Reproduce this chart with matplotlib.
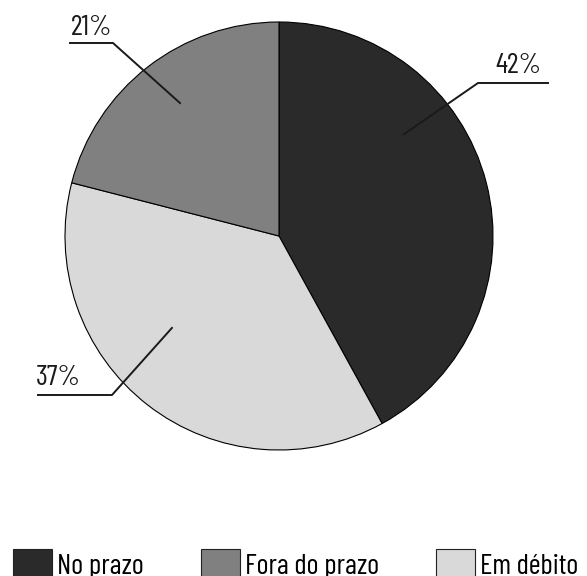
import numpy as np
import matplotlib.pyplot as plt
from matplotlib.patches import Patch

plt.rcParams['font.family'] = ['Barlow Condensed', 'Roboto Condensed', 'DejaVu Sans']
plt.rcParams['font.stretch'] = 'condensed'
plt.rcParams['font.weight'] = 'normal'

# data
labels = ['No prazo', 'Em débito', 'Fora do prazo']
values = [42, 37, 21]
colors = ['#2a2a2a', '#d9d9d9', '#808080']
legend_order = ['No prazo', 'Fora do prazo', 'Em débito']

W, H = 587, 576
fig = plt.figure(figsize=(W / 100, H / 100), dpi=100)
ax = fig.add_axes([0, 0, 1, 1])
renderer = fig.canvas.get_renderer()


def fit_size(s, target_px):
    # font size (pt) that gives the string the width seen in the reference
    t = fig.text(0, 0, s, fontsize=10)
    w = t.get_window_extent(renderer).width
    t.remove()
    return 10 * target_px / w


cx, cy, R = 279, H - 236, 214
wedges, _ = ax.pie(values, colors=colors, startangle=90, counterclock=False,
                   center=(cx, cy), radius=R, frame=True,
                   wedgeprops=dict(edgecolor='black', linewidth=0.8))
ax.set_xlim(0, W)
ax.set_ylim(0, H)
ax.set_aspect('equal')
ax.axis('off')

label_fs = fit_size('42%', 46)

# leader lines: (inner angle, inner radius frac, elbow x, elbow y(top-down), tail x, text x, text baseline)
callouts = {
    'No prazo': (39.2, 0.748, 478, 83, 549, 495, 73),
    'Fora do prazo': (126.6, 0.77, 113, 43, 69, 71, 35),
    'Em débito': (-139.4, 0.655, 112, 395, 37, 36, 385),
}
for lab, v in zip(labels, values):
    ang, rf, ex, ey, tx, lx, ly = callouts[lab]
    ix = cx + rf * R * np.cos(np.radians(ang))
    iy = cy + rf * R * np.sin(np.radians(ang))
    ax.plot([ix, ex, tx], [iy, H - ey, H - ey], color='#1a1a1a', lw=1.4,
            solid_capstyle='butt')
    ax.text(lx, H - ly, f'{v}%', fontsize=label_fs, color='#1a1a1a',
            ha='left', va='baseline')

leg_fs = fit_size('No prazo', 87)
fs_px = leg_fs * 100 / 72
handles = [Patch(facecolor=colors[labels.index(l)], edgecolor='#222222',
                 linewidth=0.8) for l in legend_order]
fig.legend(handles, legend_order, loc='lower left', bbox_to_anchor=(13 / W, -5 / H),
           ncol=3, frameon=False, fontsize=leg_fs, handlelength=39 / fs_px,
           handleheight=39 / fs_px, handletextpad=5 / fs_px,
           columnspacing=57 / fs_px, borderpad=0, borderaxespad=0)

fig.savefig('out.png', dpi=100)
